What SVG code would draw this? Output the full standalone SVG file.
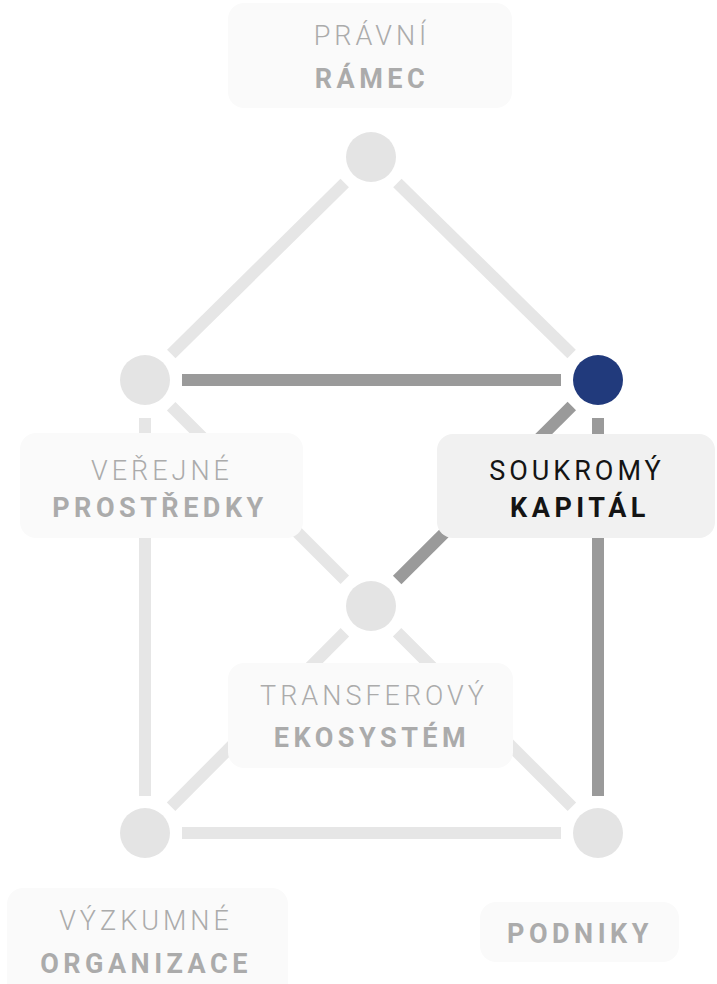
<svg xmlns="http://www.w3.org/2000/svg" width="717" height="984" viewBox="0 0 717 984">
<style>
.bg{fill:#ffffff}
.ln{stroke:#e6e6e6;stroke-width:12;stroke-linecap:butt;fill:none}
.ln.on{stroke:#9a9a9a}
.dot{fill:#e4e4e4}
.dot.on{fill:#213a7c}
.box{fill:#fafafa}
.box.on{fill:#f1f1f1}
.t1{font-family:Roboto,"Liberation Sans",sans-serif;font-size:27px;font-weight:300;letter-spacing:4px;fill:#ababab;text-anchor:middle}
.t2{font-family:Roboto,"Liberation Sans",sans-serif;font-size:27px;font-weight:700;letter-spacing:4.5px;fill:#ababab;text-anchor:middle}
.on .t1,.on .t2{fill:#141414}
.on .t1{font-weight:400}
</style>
<rect class="bg" x="0" y="0" width="717" height="984"/>
<g id="connectors">
<line class="ln" x1="344.7" y1="183" x2="171.3" y2="354"/>
<line class="ln" x1="397.4" y1="183" x2="571.6" y2="354"/>
<line class="ln on" x1="182" y1="380" x2="561" y2="380"/>
<line class="ln on" x1="571.8" y1="406.1" x2="397.2" y2="579.9"/>
<line class="ln on" x1="598" y1="418" x2="598" y2="796"/>
<line class="ln" x1="171.2" y1="406.2" x2="344.8" y2="579.8"/>
<line class="ln" x1="145" y1="418" x2="145" y2="796"/>
<line class="ln" x1="344.9" y1="632.2" x2="171.1" y2="806.8"/>
<line class="ln" x1="397.1" y1="632.2" x2="571.9" y2="806.8"/>
<line class="ln" x1="182" y1="833" x2="561" y2="833"/>
</g>
<g id="node-pravni-ramec">
<circle class="dot" cx="371" cy="157" r="25"/>
<rect class="box" x="228" y="3" width="284" height="105" rx="16"/>
<text class="t1" x="372" y="45">PRÁVNÍ</text>
<text class="t2" x="372" y="88">RÁMEC</text>
</g>
<g id="node-verejne-prostredky">
<circle class="dot" cx="145" cy="380" r="25"/>
<rect class="box" x="20" y="433" width="283" height="105" rx="16"/>
<text class="t1" x="162" y="480">VEŘEJNÉ</text>
<text class="t2" x="160" y="517">PROSTŘEDKY</text>
</g>
<g id="node-soukromy-kapital" class="on">
<circle class="dot on" cx="598" cy="380" r="25"/>
<rect class="box on" x="437" y="434" width="278" height="104" rx="16"/>
<text class="t1" x="577" y="480">SOUKROMÝ</text>
<text class="t2" x="580" y="517">KAPITÁL</text>
</g>
<g id="node-transferovy-ekosystem">
<circle class="dot" cx="371" cy="606" r="25"/>
<rect class="box" x="228" y="663" width="285" height="105" rx="16"/>
<text class="t1" x="374" y="705">TRANSFEROVÝ</text>
<text class="t2" x="372" y="747">EKOSYSTÉM</text>
</g>
<g id="node-vyzkumne-organizace">
<circle class="dot" cx="145" cy="833" r="25"/>
<rect class="box" x="7" y="888" width="281" height="110" rx="16"/>
<text class="t1" x="146" y="930">VÝZKUMNÉ</text>
<text class="t2" x="146" y="973">ORGANIZACE</text>
</g>
<g id="node-podniky">
<circle class="dot" cx="598" cy="833" r="25"/>
<rect class="box" x="480" y="902" width="199" height="60" rx="16"/>
<text class="t2" x="580" y="943">PODNIKY</text>
</g>
</svg>
